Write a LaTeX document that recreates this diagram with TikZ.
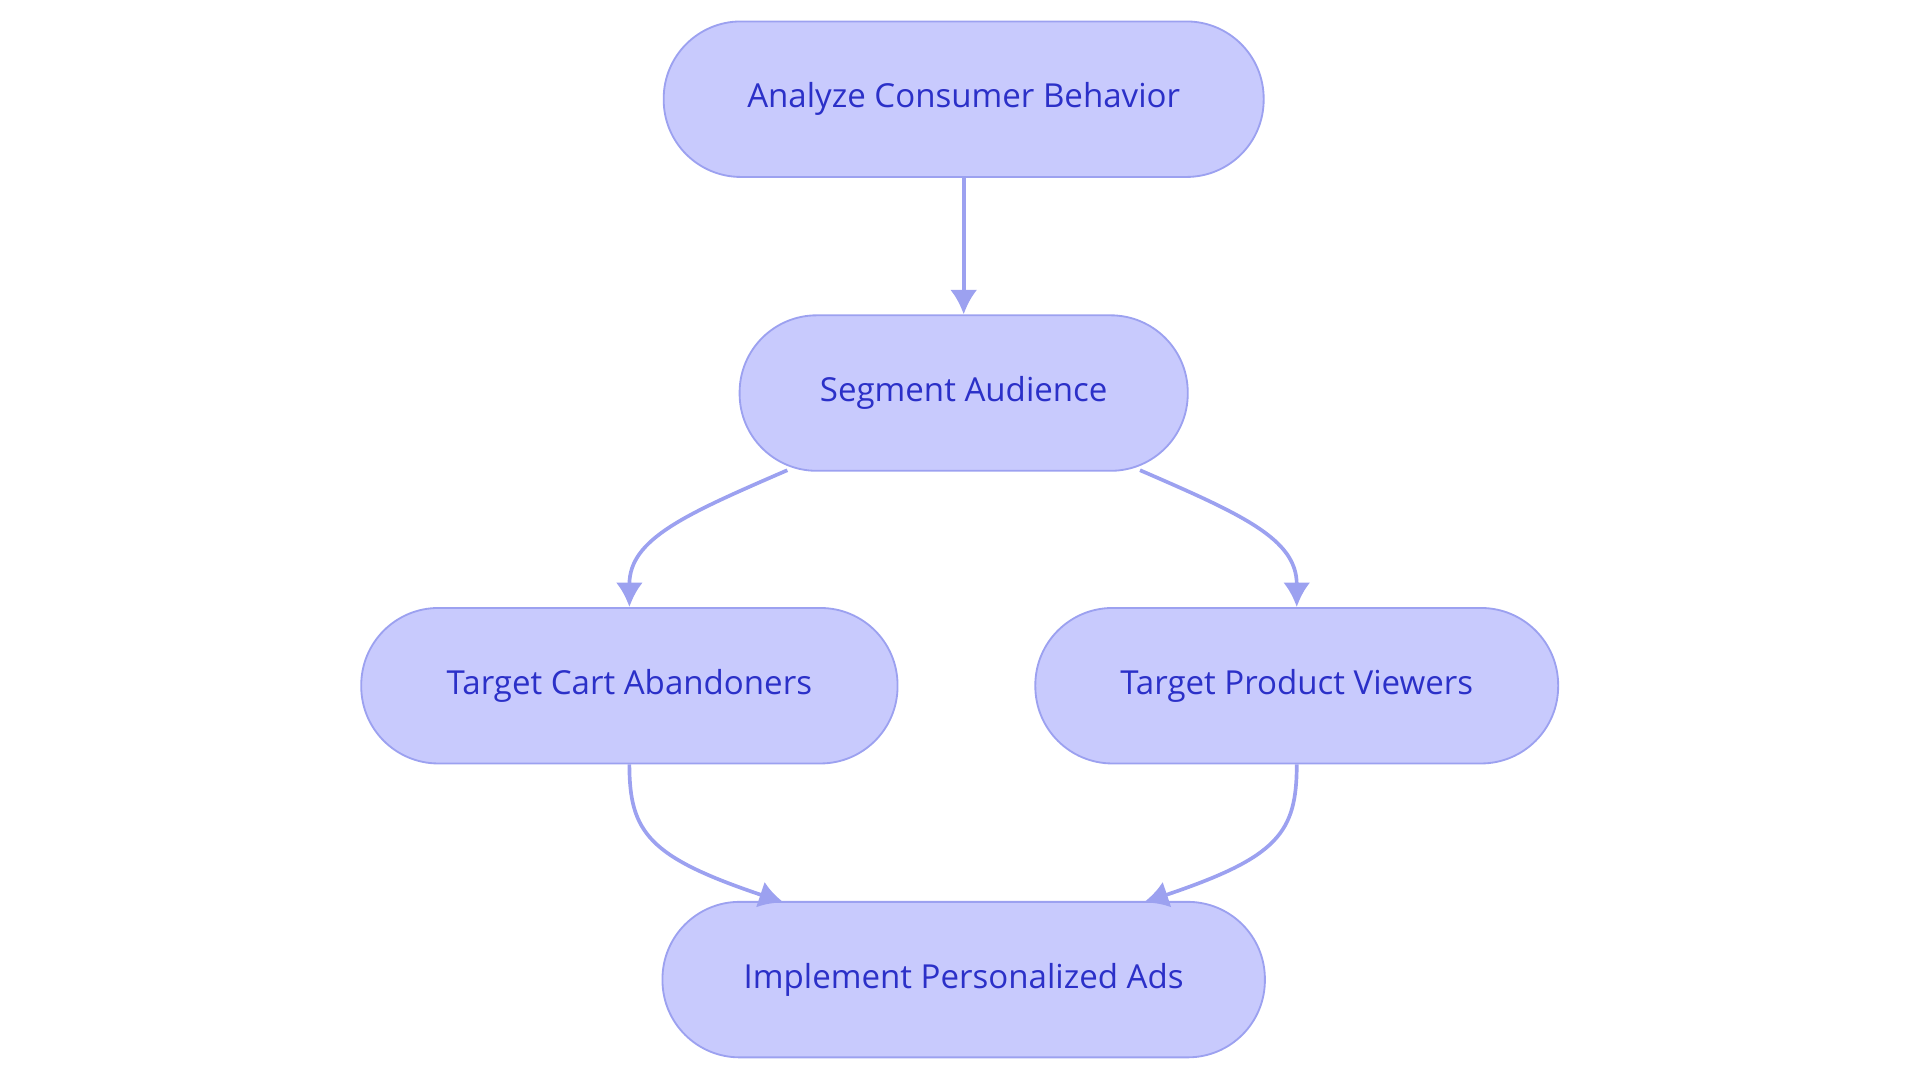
\documentclass[tikz,border=0pt]{standalone}
\usepackage{fontspec}
\setmainfont{Open Sans}
\definecolor{nfill}{HTML}{C8CAFD}
\definecolor{nline}{HTML}{9CA1F0}
\definecolor{ntext}{HTML}{2B30C8}
\begin{document}
\begin{tikzpicture}[x=1pt,y=-1pt,
  box/.style={rounded corners=63pt,fill=nfill,draw=nline,line width=1.5pt,minimum height=127pt,text=ntext,font=\fontsize{27}{30}\selectfont,inner sep=0pt},
  arr/.style={draw=nline,line width=3pt,-{Latex[length=20pt,width=22pt]}}]
\usetikzlibrary{arrows.meta}
\useasboundingbox (0,0) rectangle (1568,884);
\node[box,minimum width=490pt] (a) at (787,81) {Analyze Consumer Behavior};
\node[box,minimum width=366pt] (s) at (787,321) {Segment Audience};
\node[box,minimum width=438pt] (c) at (514,560) {Target Cart Abandoners};
\node[box,minimum width=427pt] (v) at (1059,560) {Target Product Viewers};
\node[box,minimum width=492pt] (i) at (787,800) {Implement Personalized Ads};
\coordinate (s1) at (643,384);
\coordinate (s2) at (931,384);
\coordinate (i1) at (640,737);
\coordinate (i2) at (934,737);
\draw[arr] (a) -- (s);
\draw[arr] (s1) .. controls (560,420) and (514,440) .. (c.north);
\draw[arr] (s2) .. controls (1014,420) and (1059,440) .. (v.north);
\draw[arr] (c.south) .. controls (514,680) and (530,700) .. (i1);
\draw[arr] (v.south) .. controls (1059,680) and (1044,700) .. (i2);
\end{tikzpicture}
\end{document}
